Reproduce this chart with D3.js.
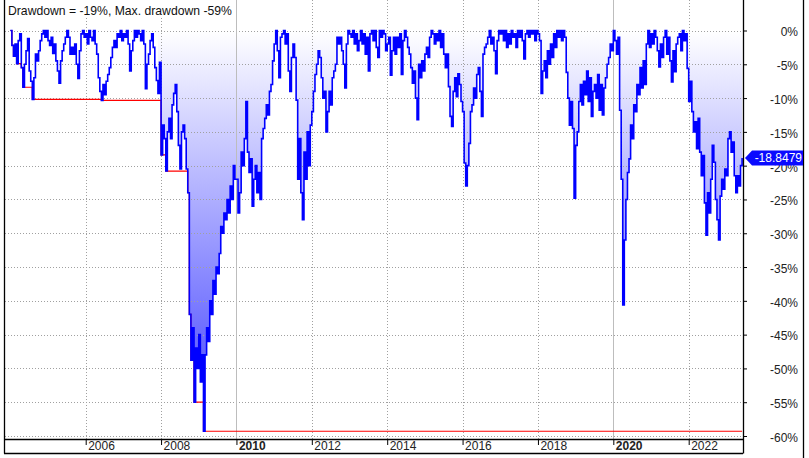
<!DOCTYPE html>
<html>
<head>
<meta charset="utf-8">
<script src="https://cdn.jsdelivr.net/npm/d3@7"></script>
<style>
  html, body { margin: 0; padding: 0; background: #fff; }
  svg { display: block; }
</style>
</head>
<body>
<script>
const titleText = "Drawdown = -19%, Max. drawdown -59%";
const startYear = 2004;
const periodsPerYear = 24;      // half-month samples
const fillFromYear = 2007.9;    // gradient area starts here in the source chart
const lastLabel = "-18.8479";
const yTicks = [0, -5, -10, -15, -20, -25, -30, -35, -40, -45, -50, -55, -60];
const xTickYears = [2006, 2008, 2010, 2012, 2014, 2016, 2018, 2020, 2022];
const boldYears = [2010, 2020];

// drawdown in %, two samples per month
const dd2004 = [0, -2.2, -3.8, -2, -4.9, -1.5, -0.5, -5.5, -8.4, -5, -3, -1.2, -6, -7.5, -10.2, -7, -3.5, -4.5, -3, -1.5, -0.5, 0, -1, 0];
const dd2005 = [-1.5, -2.2, -1, -3.4, -2, -4.5, -6, -7.8, -4.5, -3, -2, -1, 0, -1, -3.5, -2.5, -3.5, -2, -5, -7.1, -3, -0.5, 0, -1];
const dd2006 = [-0.5, -2, 0, -1, -1.5, 0, -2, -3.5, -7, -9, -10.35, -8, -9.5, -7.5, -6.5, -5.5, -4, -2.5, -1.5, -2.5, -0.5, -1, 0, -1.5];
const dd2007 = [-0.5, -1, 0, -2, -6, -3, -1.5, 0, -1, 0, -0.5, -1.5, 0, -2, -8.6, -5, -3.5, -1.5, -0.5, -2.5, -5.5, -7.4, -9.3, -4.7];
const dd2008 = [-18.4, -14, -16, -20.8, -15, -13, -16, -11, -9.3, -8, -12, -17, -20.5, -15, -14, -16, -20.5, -24, -42, -48.8, -44, -55, -47, -50];
const dd2009 = [-45, -52, -48, -59.3, -48, -44, -46, -40, -42, -37, -39, -35, -36, -33, -29, -30, -27, -28, -25, -27, -23, -25, -20, -22];
const dd2010 = [-22, -27, -24, -18, -20, -16, -10.5, -18, -21, -19, -26, -22, -20, -24, -21, -25, -16, -14.5, -13, -11, -12.5, -9, -8, -4.5];
const dd2011 = [-2, 0, -3, -7, -1, -0.5, 0, -2, -0.5, -6, -9, -4, -2, -4, -10.3, -22, -16, -24, -28, -18, -22, -15, -20, -14];
const dd2012 = [-12, -9, -6.5, -5, -3, -4, -7, -10, -9, -15, -12, -9, -11, -7, -6, -5, -1, -2, -1, -3, -5, -8.5, -2, 0];
const dd2013 = [-0.5, -1, 0, -2, -0.5, -3, -1.5, 0, -2, -0.5, -3.5, -1, -6, -0.5, 0, -1.5, 0, -2.5, -4, 0, -1, 0, -0.5, -3];
const dd2014 = [-2, -1, -6.6, -3, -1, -3.5, -1, -2.5, -0.5, -6.5, -1.5, 0, -1, -2.5, -3.5, -5.5, -7.8, -6, -10, -13.2, -5, -7, -4.5, -6];
const dd2015 = [-3.5, -2.5, -4, -1, 0, -0.5, -2, -0.5, -1.5, 0, -2.5, -0.5, -3.5, -5.5, -3.5, -8.3, -12.7, -14.2, -9, -7, -9.8, -6.4, -8, -10.5];
const dd2016 = [-12, -19.6, -23, -20, -16.7, -12, -11, -8.5, -10, -6.5, -5.5, -9, -12.7, -3.5, -2.5, -2, -1, 0, -2, -1, -3, -6.4, -1.5, 0];
const dd2017 = [-0.5, 0, -1.5, 0, -2.5, -0.5, -2, 0, -1, -0.5, -2.5, 0, -1, 0, -1.5, -4.2, -0.5, 0, -1, 0, -0.5, 0, -1.5, 0];
const dd2018 = [-0.5, -1.5, -9.3, -6, -4.5, -7, -3, -5, -2, -4, -0.5, -2.5, 0, -1, 0, -1.5, 0, -1, -6.2, -10, -14, -10.5, -14.5, -24.8];
const dd2019 = [-17, -15, -10.5, -8, -11, -7.5, -9.5, -6, -10.5, -7, -12.7, -9, -8, -10, -6.5, -11.8, -8, -12.5, -8.5, -7, -5, -4, -2, -3];
const dd2020 = [0, -1.5, -3.5, -1, -11.8, -22, -40.6, -31, -25, -21, -19, -14, -16, -11, -12, -8, -9.5, -5.5, -8.5, -4.5, -8, -2, 0, -2.5];
const dd2021 = [-0.5, -2, 0, -1, -3, -5.4, -2, -4, -1, 0, -3.5, -1, -4.5, -7.6, -3, -6.1, -2, -1, -0.5, -3, 0, -1.5, -0.5, -5.6];
const dd2022 = [-10.5, -7.5, -12, -15, -13.5, -17.5, -13, -18, -21.5, -18.5, -25.5, -30.3, -24, -27, -22, -17, -19.5, -25, -28, -31, -24.5, -22, -23.5, -20.5];
const dd2023 = [-21.5, -16, -15, -18, -16.5, -21.5, -24, -21.5, -23, -20, -18.8479];

const drawdown = [].concat(dd2004, dd2005, dd2006, dd2007, dd2008, dd2009, dd2010, dd2011,
  dd2012, dd2013, dd2014, dd2015, dd2016, dd2017, dd2018, dd2019, dd2020, dd2021, dd2022, dd2023);

const W = 809, H = 458;
const plotL = 4, plotR = 743, plotB = 439, frameB = 453, outerR = 803;
const font = "'Liberation Sans', Arial, sans-serif";

const points = drawdown.map((v, i) => ({ t: startYear + i / periodsPerYear, v: v }));
let runMin = 0;
const maxDD = points.map(p => { runMin = Math.min(runMin, p.v); return { t: p.t, v: runMin }; });

const svg = d3.select("body").append("svg").attr("width", W).attr("height", H);
svg.append("rect").attr("width", W).attr("height", H).attr("fill", "#fff");

const x = d3.scaleLinear().domain([2006, 2022]).range([85.7, 688.7]);
const y = d3.scaleLinear().domain([0, -60]).range([30.5, 436]);

// gradient for the area
const grad = svg.append("defs").append("linearGradient")
  .attr("id", "ddfill").attr("gradientUnits", "userSpaceOnUse")
  .attr("x1", 0).attr("x2", 0).attr("y1", y(0)).attr("y2", y(-60));
grad.append("stop").attr("offset", 0).attr("stop-color", "#ffffff");
grad.append("stop").attr("offset", 1).attr("stop-color", "#3c3cff");

const area = d3.area().curve(d3.curveStepAfter)
  .x(d => x(d.t)).y0(y(0)).y1(d => y(d.v));
svg.append("path")
  .datum(points.filter(d => d.t >= fillFromYear))
  .attr("d", area).attr("fill", "url(#ddfill)");

// grid
svg.append("g").selectAll("line").data(yTicks).enter().append("line")
  .attr("x1", plotL + 1).attr("x2", plotR)
  .attr("y1", d => Math.round(y(d)) + 0.5).attr("y2", d => Math.round(y(d)) + 0.5)
  .attr("stroke", "#a0a0a0").attr("stroke-dasharray", "1,2");
svg.append("g").selectAll("line").data(xTickYears).enter().append("line")
  .attr("x1", d => Math.round(x(d)) + 0.5).attr("x2", d => Math.round(x(d)) + 0.5)
  .attr("y1", 0).attr("y2", plotB)
  .attr("stroke", d => boldYears.includes(d) ? "#bdbdbd" : "#a0a0a0")
  .attr("stroke-dasharray", d => boldYears.includes(d) ? null : "1,2");

// lines
const line = d3.line().curve(d3.curveStepAfter).x(d => x(d.t)).y(d => y(d.v));
svg.append("path").datum(maxDD).attr("d", line)
  .attr("fill", "none").attr("stroke", "#ff0000").attr("stroke-width", 1.2);
svg.append("path").datum(points).attr("d", line)
  .attr("fill", "none").attr("stroke", "#0000ff").attr("stroke-width", 1.6);

// title
svg.append("rect").attr("x", plotL + 1).attr("y", 0).attr("width", 229).attr("height", 17).attr("fill", "#fff");
svg.append("text").attr("x", 8).attr("y", 14.5)
  .attr("font-family", font).attr("font-size", 12.2).attr("fill", "#111")
  .text(titleText);

// right axis
const yAxis = d3.axisRight(y).tickValues(yTicks).tickSize(4).tickFormat(d => d + "%");
const gy = svg.append("g").attr("transform", "translate(" + plotR + ",0)").call(yAxis);
gy.select(".domain").remove();
gy.selectAll(".tick line").attr("stroke", "#000");
gy.selectAll("text").attr("x", 55).attr("y", 1.5).attr("text-anchor", "end")
  .attr("font-family", font).attr("font-size", 12).attr("fill", "#222");

// bottom axis
const xAxis = d3.axisBottom(x).tickValues(xTickYears).tickSize(6).tickFormat(d3.format("d"));
const gx = svg.append("g").attr("transform", "translate(0," + plotB + ")").call(xAxis);
gx.select(".domain").remove();
gx.selectAll(".tick line").attr("stroke", "#000");
gx.selectAll("text").attr("x", 2).attr("y", 10.5).attr("dy", 0).attr("text-anchor", "start")
  .attr("font-family", font).attr("font-size", 12).attr("fill", "#222")
  .attr("font-weight", d => boldYears.includes(d) ? "bold" : "normal");

// frame
const frame = [
  [plotL + 0.5, 0, plotL + 0.5, frameB + 0.5],
  [plotL, plotB + 0.5, plotR, plotB + 0.5],
  [plotL, frameB + 0.5, plotR, frameB + 0.5],
  [plotR + 0.5, 0, plotR + 0.5, frameB + 0.5],
  [outerR + 0.5, 0, outerR + 0.5, H]
];
svg.append("g").selectAll("line").data(frame).enter().append("line")
  .attr("x1", d => d[0]).attr("y1", d => d[1]).attr("x2", d => d[2]).attr("y2", d => d[3])
  .attr("stroke", "#000").attr("stroke-width", 1.3);

// last value tag (sits over the -20% label, as in the source)
const lastV = drawdown[drawdown.length - 1];
const ty = y(lastV);
svg.append("path")
  .attr("d", "M" + (plotR + 2) + "," + ty + "L" + (plotR + 9) + "," + (ty - 7.5) +
    "L" + outerR + "," + (ty - 7.5) + "L" + outerR + "," + (ty + 7.5) +
    "L" + (plotR + 9) + "," + (ty + 7.5) + "Z")
  .attr("fill", "#0a0aff");
svg.append("text").attr("x", outerR - 1).attr("y", ty + 4.3).attr("text-anchor", "end")
  .attr("font-family", font).attr("font-size", 12).attr("fill", "#fff")
  .text(lastLabel);
</script>
</body>
</html>
